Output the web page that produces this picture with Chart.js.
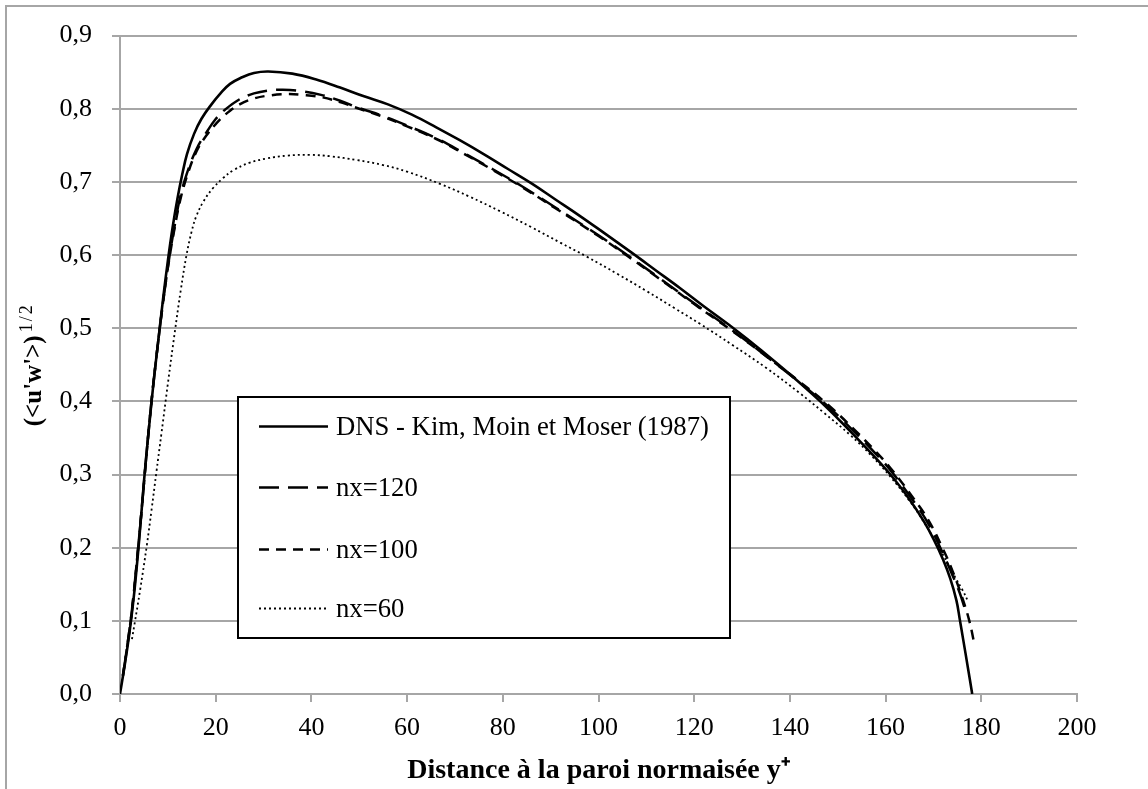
<!DOCTYPE html>
<html><head><meta charset="utf-8">
<script src="https://cdn.jsdelivr.net/npm/chart.js@4.4.1/dist/chart.umd.min.js"></script>
<style>html,body{margin:0;padding:0;background:#fff;}#wrap{width:1148px;height:789px;position:relative;}</style>
</head><body><div id="wrap"><canvas id="c" width="1148" height="789"></canvas></div>
<script>
// ---- data ----
const xTickValues = [0,20,40,60,80,100,120,140,160,180,200];
const yTickValues = [0,0.1,0.2,0.3,0.4,0.5,0.6,0.7,0.8,0.9];
const seriesLabels = ['DNS - Kim, Moin et Moser (1987)','nx=120','nx=100','nx=60'];
const xAxisTitle = 'Distance à la paroi normaisée y\u207A';
const yAxisTitleMain = "(<u'w'>)";
const yAxisTitleSup = '1/2';

const dnsX = [0,1,2,3,4,5,6,7,8,9,10,11,12,13,14,15.5,17,19,21,23,25.5,28,31,36,41,46,51,56,61,66,71,76,81,86,91,96,101,107,112,117,122,128,134,140,146,151,156,161,165,168,170,172,173.5,174.8,175.5,176.2,177.2,178.1];
const dnsY = [0,0.04,0.085,0.14,0.21,0.29,0.36,0.425,0.483,0.540,0.592,0.638,0.677,0.710,0.738,0.766,0.786,0.805,0.821,0.834,0.843,0.849,0.851,0.848,0.840,0.829,0.817,0.806,0.792,0.775,0.757,0.738,0.718,0.698,0.676,0.654,0.631,0.603,0.579,0.555,0.530,0.501,0.470,0.437,0.402,0.370,0.336,0.300,0.266,0.236,0.212,0.184,0.158,0.128,0.102,0.075,0.036,0];

const nx120X = [0.6,1.5,2.5,3.5,4.5,5.5,6.5,7.5,8.5,9.5,10.5,11.5,12.5,14,16,18,20,22,25,28,31,34,38,42,46,50,55,60,66,72,78,84,91,100,106,112,120,128,136,142,148,154,158,161,166,169,172,174,175.5,176.5];
const nx120Y = [0.025,0.065,0.115,0.18,0.25,0.325,0.395,0.455,0.51,0.56,0.605,0.643,0.677,0.712,0.745,0.767,0.786,0.799,0.813,0.821,0.825,0.826,0.824,0.819,0.811,0.801,0.790,0.777,0.760,0.739,0.717,0.694,0.665,0.627,0.600,0.572,0.534,0.497,0.457,0.426,0.393,0.355,0.328,0.306,0.262,0.232,0.192,0.162,0.138,0.118];

const nx100X = [0.6,1.5,2.5,3.5,4.5,5.5,6.5,7.5,8.5,9.5,10.5,11.5,12.5,14,16,18,20,22,25,28,31,35,38,42,46,50,55,60,66,72,78,84,91,100,106,112,120,128,136,142,148,154,158,161,166,169,172,174,176,177.5,178.5];
const nx100Y = [0.025,0.065,0.115,0.18,0.25,0.325,0.395,0.455,0.51,0.56,0.603,0.640,0.673,0.708,0.742,0.763,0.779,0.792,0.806,0.814,0.818,0.820,0.819,0.816,0.809,0.800,0.789,0.776,0.759,0.738,0.716,0.693,0.664,0.626,0.599,0.571,0.533,0.496,0.457,0.427,0.395,0.358,0.331,0.309,0.266,0.237,0.198,0.168,0.132,0.100,0.070];

const nx60X = [2.5,3.1,4.2,5.6,6.6,7.6,8.7,10,11.5,12.7,13.9,15,16,17.5,19.5,21.5,23.7,27,30.6,35,39.7,44,49.4,55,60,67,73,79.4,86,92,97.5,104,110,116,121.2,128,135,142.1,147,152.6,157,161,165,168,171,173,174.5,176,177.3];
const nx60Y = [0.075,0.098,0.142,0.203,0.252,0.303,0.358,0.424,0.497,0.552,0.600,0.633,0.654,0.674,0.692,0.705,0.716,0.726,0.732,0.736,0.737,0.735,0.730,0.723,0.714,0.697,0.680,0.660,0.638,0.617,0.598,0.574,0.551,0.527,0.506,0.477,0.446,0.411,0.385,0.354,0.326,0.297,0.264,0.235,0.202,0.178,0.160,0.143,0.126];

const pts = (xs, ys) => xs.map((x, i) => ({x: x, y: ys[i]}));

const GRID = '#a6a6a6';
const SERIF = '"Liberation Serif", "Times New Roman", serif';

const frame = {
  id: 'frame',
  beforeDraw(chart) {
    const ctx = chart.ctx;
    ctx.save();
    ctx.fillStyle = '#fff';
    ctx.fillRect(0, 0, chart.width, chart.height);
    ctx.strokeStyle = GRID;
    ctx.lineWidth = 2;
    ctx.strokeRect(6, 6, chart.width + 20, chart.height + 20);
    ctx.restore();
  }
};

const boxLegend = {
  id: 'boxLegend',
  afterDraw(chart) {
    const ctx = chart.ctx;
    const x0 = 238, y0 = 397, x1 = 730, y1 = 638;
    ctx.save();
    ctx.fillStyle = '#fff';
    ctx.fillRect(x0, y0, x1 - x0, y1 - y0);
    ctx.strokeStyle = '#000';
    ctx.lineWidth = 2;
    ctx.setLineDash([]);
    ctx.strokeRect(x0, y0, x1 - x0, y1 - y0);
    const rows = [428, 489, 551, 610];
    chart.data.datasets.forEach((ds, i) => {
      const y = rows[i];
      ctx.beginPath();
      ctx.setLineDash(ds.borderDash || []);
      ctx.lineWidth = ds.borderWidth;
      ctx.strokeStyle = ds.borderColor;
      ctx.lineCap = 'butt';
      ctx.moveTo(259, y - 1.5);
      ctx.lineTo(328, y - 1.5);
      ctx.stroke();
      ctx.setLineDash([]);
      ctx.fillStyle = '#000';
      ctx.font = '26.7px ' + SERIF;
      ctx.textBaseline = 'middle';
      ctx.textAlign = 'left';
      ctx.fillText(ds.label, 336, y);
    });
    ctx.restore();
  }
};

const yTitle = {
  id: 'yTitle',
  afterDraw(chart) {
    const ctx = chart.ctx;
    const area = chart.chartArea;
    ctx.save();
    ctx.translate(41, (area.top + area.bottom) / 2);
    ctx.rotate(-Math.PI / 2);
    ctx.fillStyle = '#000';
    ctx.textBaseline = 'alphabetic';
    ctx.textAlign = 'left';
    const mainFont = 'bold 25px ' + SERIF;
    const supFont = '18px ' + SERIF;
    ctx.font = mainFont;
    const w1 = ctx.measureText(yAxisTitleMain).width;
    ctx.font = supFont;
    ctx.letterSpacing = '2px';
    const w2 = ctx.measureText(yAxisTitleSup).width;
    const total = w1 + 3 + w2;
    const x = -total / 2;
    ctx.letterSpacing = '0px';
    ctx.font = mainFont;
    ctx.fillText(yAxisTitleMain, x, 0);
    ctx.font = supFont;
    ctx.letterSpacing = '2px';
    ctx.fillText(yAxisTitleSup, x + w1 + 3, -9);
    ctx.restore();
  }
};

const fmt = v => (Math.round(v * 10) / 10).toFixed(1).replace('.', ',');

new Chart(document.getElementById('c'), {
  type: 'line',
  data: {
    datasets: [
      {label: seriesLabels[0], data: pts(dnsX, dnsY), borderColor: '#000', borderWidth: 2.6, borderDash: []},
      {label: seriesLabels[1], data: pts(nx120X, nx120Y), borderColor: '#000', borderWidth: 2.5, borderDash: [20, 9]},
      {label: seriesLabels[2], data: pts(nx100X, nx100Y), borderColor: '#000', borderWidth: 2.5, borderDash: [10, 7]},
      {label: seriesLabels[3], data: pts(nx60X, nx60Y), borderColor: '#000', borderWidth: 1.8, borderDash: [2, 3]}
    ]
  },
  options: {
    responsive: false,
    animation: false,
    devicePixelRatio: 1,
    layout: {padding: {left: 0, right: 71, top: 29, bottom: 0}},
    elements: {
      point: {radius: 0, hoverRadius: 0},
      line: {fill: false, tension: 0.4, cubicInterpolationMode: 'default', borderCapStyle: 'butt', borderJoinStyle: 'round'}
    },
    plugins: {legend: {display: false}, tooltip: {enabled: false}},
    scales: {
      x: {
        type: 'linear', min: 0, max: 200,
        afterBuildTicks: s => { s.ticks = xTickValues.map(v => ({value: v})); },
        afterFit: s => { s.height = 95; },
        ticks: {color: '#000', font: {family: SERIF, size: 26}, padding: 11, maxRotation: 0, autoSkip: false},
        grid: {drawOnChartArea: false, drawTicks: true, tickLength: 8, color: GRID, lineWidth: 2},
        border: {display: true, color: GRID, width: 2},
        title: {display: true, text: xAxisTitle, color: '#000', font: {family: SERIF, size: 28, weight: 'bold'}, padding: {top: 0, bottom: 1}}
      },
      y: {
        type: 'linear', min: 0, max: 0.9,
        afterBuildTicks: s => { s.ticks = yTickValues.map(v => ({value: v})); },
        afterFit: s => { s.width = 120; },
        ticks: {color: '#000', font: {family: SERIF, size: 26}, padding: 20, callback: v => fmt(v)},
        grid: {drawTicks: true, tickLength: 8, color: GRID, lineWidth: 2},
        border: {display: true, color: GRID, width: 2}
      }
    }
  },
  plugins: [frame, boxLegend, yTitle]
});
</script></body></html>
